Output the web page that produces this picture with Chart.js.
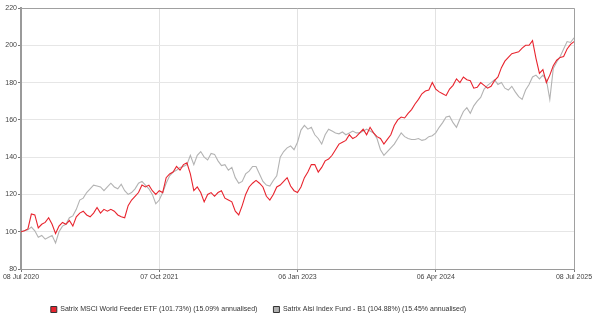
<!DOCTYPE html>
<html>
<head>
<meta charset="utf-8">
<script src="https://cdn.jsdelivr.net/npm/chart.js@4.4.1/dist/chart.umd.min.js"></script>
<style>
  html, body { margin: 0; padding: 0; background: #ffffff; }
  #wrap { width: 602px; height: 329px; }
</style>
</head>
<body>
<div id="wrap"><canvas id="c" width="602" height="329"></canvas></div>
<script>
// Cumulative value of 100 invested, sampled at equal steps over five years
const seriesNames = [
  "Satrix MSCI World Feeder ETF (101.73%) (15.09% annualised)",
  "Satrix Alsi Index Fund - B1 (104.88%) (15.45% annualised)"
];

const msciWorld = [
  100, 100.5, 101.5, 109.5, 109, 102, 104, 105, 107.5, 104,
  99, 103, 105, 104, 106, 103, 108, 110, 111, 109,
  108, 110, 113, 110, 112, 111, 112, 111, 109, 108,
  107.5, 114, 117, 119, 121, 125, 124, 125, 122, 120,
  122, 121, 129, 131, 132, 135, 133, 136, 137, 131,
  122, 124, 121, 116, 120, 121, 119, 121, 122, 118,
  117, 116, 111, 109, 114, 120, 124, 126, 127.5, 126,
  124, 119, 117, 120, 124, 125, 127, 129, 124.5, 122,
  121, 124, 129, 132, 136, 136, 132, 134.5, 138, 139,
  141, 144, 147, 148, 149, 152, 150, 151, 153, 155,
  152, 156, 153, 151, 150, 147, 149.5, 152, 157, 160,
  161.5, 161, 163.5, 165.5, 168.5, 171, 174, 175.5, 176, 180,
  176.5, 175, 174, 173, 176.5, 178.5, 182, 180, 183, 181.5,
  181, 177, 177.5, 180, 178.5, 177, 178, 181, 183, 188,
  191.5, 193.5, 195.5, 196, 196.5, 198.5, 200, 200, 202.5, 193,
  185, 187, 180, 184, 189, 192, 193.5, 194, 198, 200.5,
  202
];

const alsiB1 = [
  100, 100.5, 101, 102.5, 100.5, 97, 98, 96, 97, 98,
  94, 100, 103, 104, 107.5, 108.5, 112, 117, 118, 121,
  123, 125, 124.5, 124, 122, 124, 126, 124, 123, 125.5,
  122, 120, 121, 123, 126, 127, 125, 123, 120, 115,
  117, 121, 126, 130, 132, 133, 134.5, 135, 136, 141,
  136, 141, 143, 140, 138.5, 142, 141.5, 138, 135.5, 136,
  133, 134.5, 129, 126, 127, 131, 132.5, 135, 135, 131,
  127, 125, 124.5, 127.5, 130, 140, 143, 145, 146, 144,
  148, 154.5, 157, 155, 156, 152, 150, 147, 152, 155,
  154, 153, 152.5, 153.5, 152, 153, 154, 153, 153, 154,
  155, 154, 153, 150, 144, 141, 143, 145, 147, 150,
  153, 151, 150, 149.5, 149.5, 150, 149, 149.5, 151, 151.5,
  153, 156, 158.5, 161.5, 162, 158.5, 156, 160.5, 164.5, 166.5,
  163.5, 167.5, 170, 172, 176.5, 178.5, 180, 181.5, 179, 180,
  177, 176, 178, 175, 172.5, 171, 176, 179, 183, 184,
  182, 184, 181.5, 171, 187.5, 191, 194, 198, 202, 201.5,
  204
];

// Date labels and the sample positions they fall on
const tickLabels = ["08 Jul 2020", "07 Oct 2021", "06 Jan 2023", "06 Apr 2024", "08 Jul 2025"];
const tickSteps = [0, 40, 80, 120, 160];

const yTicks = [80, 100, 120, 140, 160, 180, 200, 220];

const toPoints = arr => arr.map((v, i) => ({ x: i, y: v }));

const RED = "#e8242e";
const GREY = "#b3b3b3";
const FONT = "'Liberation Sans', Arial, sans-serif";

// Frame around the plotting area (top and right edges)
const framePlugin = {
  id: "frame",
  afterLayout(chart) {
    // keep the legend row a little left of the canvas centre
    const lg = chart.legend;
    if (lg) { lg.right -= 57; }
  },
  afterDraw(chart) {
    const { ctx, chartArea: a } = chart;
    ctx.save();
    ctx.strokeStyle = "#a0a0a0";
    ctx.lineWidth = 1;
    ctx.beginPath();
    ctx.moveTo(a.left, a.top + 0.5);
    ctx.lineTo(a.right + 0.5, a.top + 0.5);
    ctx.lineTo(a.right + 0.5, a.bottom);
    ctx.stroke();
    ctx.restore();
  }
};

new Chart(document.getElementById("c"), {
  type: "line",
  data: {
    datasets: [
      {
        label: seriesNames[0],
        data: toPoints(msciWorld),
        borderColor: RED,
        backgroundColor: RED,
        borderWidth: 1.1,
        pointRadius: 0,
        tension: 0
      },
      {
        label: seriesNames[1],
        data: toPoints(alsiB1),
        borderColor: GREY,
        backgroundColor: "#b0b0b0",
        borderWidth: 1.1,
        pointRadius: 0,
        tension: 0
      }
    ]
  },
  options: {
    responsive: false,
    animation: false,
    devicePixelRatio: 1,
    layout: { padding: { left: 0, right: 28, top: 8, bottom: 6 } },
    plugins: {
      tooltip: { enabled: false },
      legend: {
        position: "bottom",
        labels: {
          font: { family: FONT, size: 7 },
          color: "#333333",
          boxWidth: 6,
          boxHeight: 6,
          padding: 16,
          generateLabels(chart) {
            return chart.data.datasets.map((ds, i) => ({
              text: ds.label,
              fillStyle: ds.backgroundColor,
              strokeStyle: "#333333",
              lineWidth: 1,
              fontColor: "#333333",
              datasetIndex: i,
              hidden: false
            }));
          }
        }
      }
    },
    scales: {
      x: {
        type: "linear",
        min: 0,
        max: 160,
        afterBuildTicks(scale) {
          scale.ticks = tickSteps.map(v => ({ value: v }));
        },
        afterFit(scale) { scale.height = 21; },
        ticks: {
          autoSkip: false,
          maxRotation: 0,
          padding: 1,
          font: { family: FONT, size: 7 },
          color: "#444444",
          callback(value) {
            const k = tickSteps.indexOf(value);
            return k >= 0 ? tickLabels[k] : "";
          }
        },
        grid: { color: "#e2e2e2", lineWidth: 1, tickLength: 3, tickColor: "#777777" },
        border: { color: "#9a9a9a", width: 1 }
      },
      y: {
        min: 80,
        max: 220,
        afterBuildTicks(scale) {
          scale.ticks = yTicks.map(v => ({ value: v }));
        },
        afterFit(scale) { scale.width = 21; },
        ticks: {
          padding: 1,
          font: { family: FONT, size: 7 },
          color: "#444444"
        },
        grid: { color: "#e6e6e6", lineWidth: 1, tickLength: 3, tickColor: "#777777" },
        border: { color: "#9a9a9a", width: 2 }
      }
    }
  },
  plugins: [framePlugin]
});
</script>
</body>
</html>
